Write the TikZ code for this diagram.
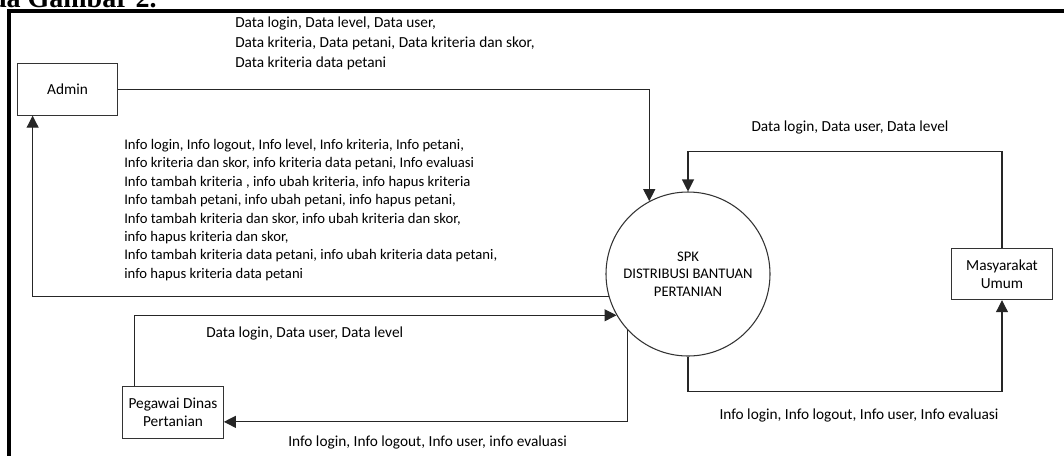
\documentclass[tikz,border=0pt]{standalone}
\usepackage{fontspec}
\setmainfont{Carlito}
\newfontfamily\gambarfont{Liberation Serif}
\usetikzlibrary{arrows.meta}

\begin{document}
\begin{tikzpicture}[x=0.75pt, y=-0.75pt,
    every node/.style={font=\fontsize{11.5}{13.8}\selectfont},
    entity/.style={draw=black!80, line width=0.8pt, minimum width=75.5pt, minimum height=38.5pt, align=center, inner sep=1pt},
    process/.style={draw=black!80, line width=0.8pt, circle, minimum size=123pt, align=center, inner sep=0pt},
    flow/.style={draw=black!85, line width=0.8pt, -{Triangle[length=9pt, width=9pt]}},
    flowtext/.style={align=left, inner sep=0pt, anchor=north west}]
    \useasboundingbox (0,0) rectangle (1064,455);

    \begin{scope}
    \clip (0,0) rectangle (1064,455);
    \node[anchor=base east, inner sep=0pt, font=\gambarfont\bfseries\fontsize{21}{21}\selectfont] (caption) at (157,7) {pada Gambar 2.};
    \draw[line width=2.3pt] (9,460) -- (9,11) -- (1070,11);
    \end{scope}

    \node[entity] (admin) at (67.5,89.5) {Admin};
    \node[entity] (peg) at (173,412.5) {Pegawai Dinas\\Pertanian};
    \node[entity] (mas) at (1002,274) {Masyarakat\\Umum};
    \node[process, font=\fontsize{11}{13}\selectfont] (spk) at (688,274) {SPK\\DISTRIBUSI BANTUAN\\PERTANIAN};

    \draw[flow] (admin.east) -| (spk.118);
    \draw[flow] (spk.196) -| ([xshift=12pt]admin.south west);
    \draw[flow] ([xshift=9pt]peg.north west) |- (spk.210);
    \draw[flow] (spk.223) |- ([yshift=-7pt]peg.east);
    \draw[flow] (mas.north) -- ++(0,-96) -| (spk.north);
    \draw[flow] (spk.south) -- ++(0,35) -| (mas.south);

    \node[flowtext, font=\fontsize{11.5}{14.8}\selectfont] (admdata) at (235,17) {Data login, Data level, Data user,\\Data kriteria, Data petani, Data kriteria dan skor,\\Data kriteria data petani};
    \node[flowtext, font=\fontsize{11}{13.8}\selectfont] (adminfo) at (124,139) {Info login, Info logout, Info level, Info kriteria, Info petani,\\Info kriteria dan skor, info kriteria data petani, Info evaluasi\\Info tambah kriteria , info ubah kriteria, info hapus kriteria\\Info tambah petani, info ubah petani, info hapus petani,\\Info tambah kriteria dan skor, info ubah kriteria dan skor,\\info hapus kriteria dan skor,\\Info tambah kriteria data petani, info ubah kriteria data petani,\\info hapus kriteria data petani};
    \node[flowtext] (pegdata) at (206,327) {Data login, Data user, Data level};
    \node[flowtext] (peginfo) at (288,436) {Info login, Info logout, Info user, info evaluasi};
    \node (masdata) at (850,127) {Data login, Data user, Data level};
    \node (masinfo) at (859,415) {Info login, Info logout, Info user, Info evaluasi};
\end{tikzpicture}
\end{document}
